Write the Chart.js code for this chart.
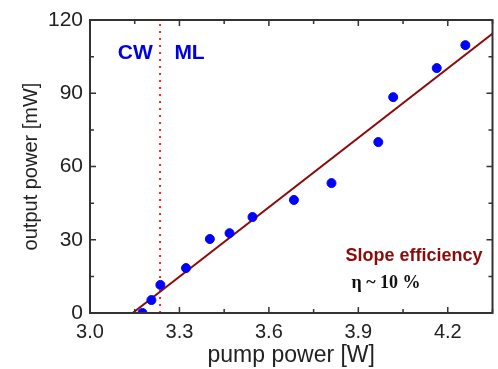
<!DOCTYPE html>
<html>
<head>
<meta charset="utf-8">
<script src="https://cdn.jsdelivr.net/npm/chart.js@4.4.1/dist/chart.umd.min.js"></script>
<style>
  html, body { margin: 0; padding: 0; background: #fff; }
  #wrap { width: 498px; height: 369px; }
</style>
</head>
<body>
<div id="wrap"><canvas id="slope-chart" width="498" height="369"></canvas></div>
<script>
// measured points (pump power in W, output power in mW)
const pumpPower = [3.176, 3.206, 3.236, 3.322, 3.402, 3.468, 3.545, 3.684, 3.81, 3.967, 4.017, 4.163, 4.259];
const outputPower = [0, 5.3, 11.5, 18.4, 30.3, 32.7, 39.3, 46.3, 53.2, 70, 88.4, 100.3, 109.7];

// linear fit end points
const fitX = [3.143, 4.4];
const fitY = [0, 119.2];

// CW / ML boundary
const thresholdX = 3.235;

const xTicks = [3.0, 3.3, 3.6, 3.9, 4.2];
const yTicks = [0, 30, 60, 90, 120];
const xMinor = [3.15, 3.45, 3.75, 4.05, 4.35];
const yMinor = [15, 45, 75, 105];

const frameAndText = {
  id: 'frameAndText',
  afterDraw(chart) {
    const { ctx, chartArea: a, scales: { x, y } } = chart;
    ctx.save();
    ctx.strokeStyle = '#333';
    ctx.lineWidth = 2;
    ctx.strokeRect(a.left, a.top, a.right - a.left, a.bottom - a.top);

    ctx.lineWidth = 1.5;
    ctx.beginPath();
    const tickX = (v, len) => {
      const px = x.getPixelForValue(v);
      ctx.moveTo(px, a.bottom); ctx.lineTo(px, a.bottom - len);
      ctx.moveTo(px, a.top); ctx.lineTo(px, a.top + len);
    };
    const tickY = (v, len) => {
      const py = y.getPixelForValue(v);
      ctx.moveTo(a.left, py); ctx.lineTo(a.left + len, py);
      ctx.moveTo(a.right, py); ctx.lineTo(a.right - len, py);
    };
    xTicks.forEach(v => tickX(v, 6));
    xMinor.forEach(v => tickX(v, 4));
    yTicks.forEach(v => tickY(v, 6));
    yMinor.forEach(v => tickY(v, 4));
    ctx.stroke();

    ctx.textBaseline = 'middle';
    ctx.textAlign = 'left';
    ctx.fillStyle = '#0000e0';
    ctx.font = 'bold 21px "Liberation Sans", Arial, sans-serif';
    ctx.fillText('CW', x.getPixelForValue(3.093), y.getPixelForValue(106.5));
    ctx.fillText('ML', x.getPixelForValue(3.283), y.getPixelForValue(106.5));

    ctx.fillStyle = '#8b0a0a';
    ctx.font = 'bold 18px "Liberation Sans", Arial, sans-serif';
    ctx.fillText('Slope efficiency', x.getPixelForValue(3.857), y.getPixelForValue(23.3));

    ctx.fillStyle = '#111';
    ctx.font = 'bold 18px "Liberation Serif", "Times New Roman", serif';
    ctx.fillText('\u03b7 ~ 10 %', x.getPixelForValue(3.877), y.getPixelForValue(12.3));
    ctx.restore();
  }
};

new Chart(document.getElementById('slope-chart'), {
  type: 'scatter',
  data: {
    datasets: [
      {
        label: 'threshold',
        type: 'line',
        data: [{ x: thresholdX, y: 0 }, { x: thresholdX, y: 120 }],
        borderColor: '#ff2020',
        borderWidth: 2,
        borderDash: [2, 5],
        pointRadius: 0,
        order: 3
      },
      {
        label: 'fit',
        type: 'line',
        data: fitX.map((v, i) => ({ x: v, y: fitY[i] })),
        borderColor: '#8b0a0a',
        borderWidth: 2,
        pointRadius: 0,
        order: 2
      },
      {
        label: 'data',
        data: pumpPower.map((v, i) => ({ x: v, y: outputPower[i] })),
        backgroundColor: '#0000ff',
        borderColor: '#0000ff',
        pointRadius: 4.5,
        order: 1
      }
    ]
  },
  options: {
    responsive: false,
    animation: false,
    layout: { padding: { top: 20, right: 3, left: 0, bottom: 0 } },
    plugins: { legend: { display: false }, tooltip: { enabled: false } },
    scales: {
      x: {
        type: 'linear',
        min: 3.0,
        max: 4.35,
        afterBuildTicks: s => { s.ticks = xTicks.map(v => ({ value: v })); },
        afterFit: s => { s.height = 56; s.paddingLeft = 0; s.paddingRight = 0; },
        grid: { display: false, drawTicks: false },
        border: { display: false },
        ticks: {
          color: '#222',
          padding: 7,
          font: { size: 20, family: '"Liberation Sans", Arial, sans-serif' },
          callback: v => v.toFixed(1)
        },
        title: {
          display: true,
          text: 'pump power [W]',
          color: '#222',
          padding: { top: 0, bottom: 0 },
          font: { size: 23, family: '"Liberation Sans", Arial, sans-serif' }
        }
      },
      y: {
        min: 0,
        max: 120,
        afterBuildTicks: s => { s.ticks = yTicks.map(v => ({ value: v })); },
        afterFit: s => { s.width = 90; s.paddingTop = 0; s.paddingBottom = 0; },
        grid: { display: false, drawTicks: false },
        border: { display: false },
        ticks: {
          color: '#222',
          padding: 7,
          font: { size: 21, family: '"Liberation Sans", Arial, sans-serif' }
        },
        title: {
          display: true,
          text: 'output power [mW]',
          color: '#222',
          padding: { top: 19, bottom: 0 },
          font: { size: 20, family: '"Liberation Sans", Arial, sans-serif' }
        }
      }
    }
  },
  plugins: [frameAndText]
});
</script>
</body>
</html>
